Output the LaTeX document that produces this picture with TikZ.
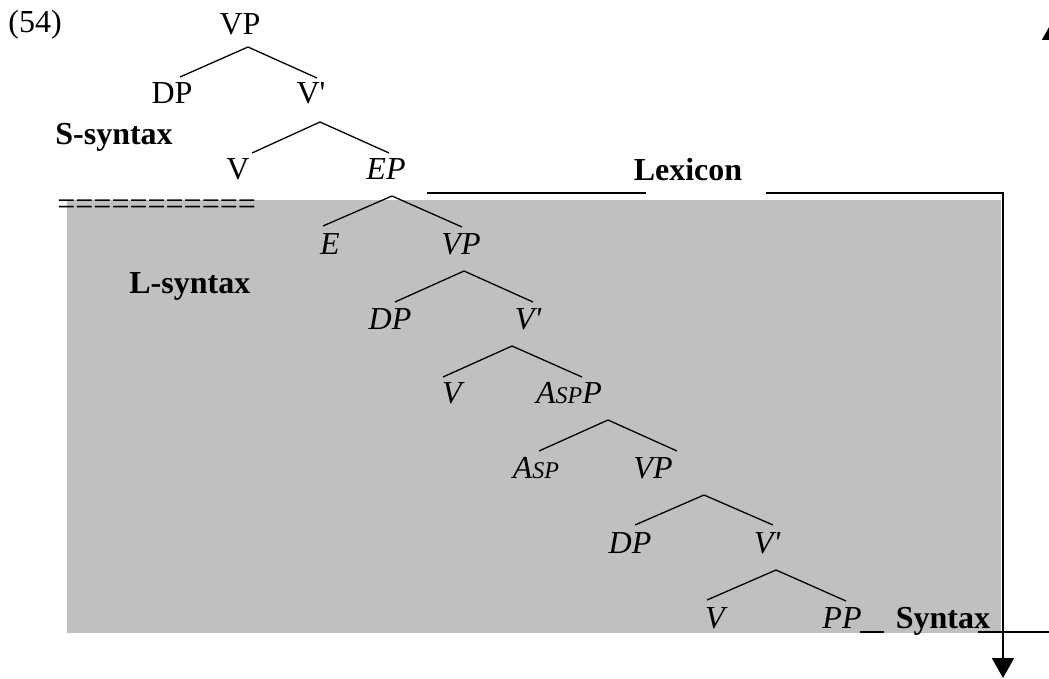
\documentclass[tikz,border=0pt]{standalone}
\usepackage{fontspec}
\setmainfont{Liberation Serif}
\usetikzlibrary{arrows.meta}
\definecolor{lexGray}{RGB}{192,192,192}

% small-caps Asp head and the bar prime
\newcommand{\Asp}{A{\fontsize{12}{14}\selectfont SP}}
\newcommand{\prm}{\textquotesingle}

\begin{document}
\begin{tikzpicture}[x=0.5pt, y=-0.5pt]%
  \tikzset{plain cat/.style={anchor=base, inner sep=0pt, font=\fontsize{16}{19}\selectfont}}
  \tikzset{lex cat/.style={plain cat, font=\fontsize{16}{19}\selectfont\itshape}}
  \tikzset{area name/.style={plain cat, font=\fontsize{16}{19}\selectfont\bfseries}}
  \tikzset{tree branch/.style={draw, line width=0.65pt}}
  \tikzset{route line/.style={draw, line width=1pt}}
  \tikzset{route arrow/.style={route line, -{Triangle[length=10pt, width=11pt]}}}

  \useasboundingbox (0,0) rectangle (1049,679);
  \fill[lexGray] (67,200) rectangle (1001,633);

  % S-syntax part
  \node[plain cat, anchor=base west] (ex) at (8,33) {(54)};
  \node[plain cat] (VP0) at (240,35) {VP};
  \node[plain cat] (DP0) at (172,104) {DP};
  \node[plain cat] (Vbar0) at (311,104) {V\prm};
  \node[area name, anchor=base west] (Ssyn) at (55,145) {S-syntax};
  \node[plain cat] (V0) at (238,180) {V};
  \node[lex cat] (EP) at (386,180) {EP};
  \node[plain cat, anchor=base west] (bound) at (57,215) {===========};
  \node[area name] (Lexicon) at (688,181) {Lexicon};

  % L-syntax part
  \node[lex cat] (E) at (330,255) {E};
  \node[lex cat] (VP1) at (461,255) {VP};
  \node[area name, anchor=base west] (Lsyn) at (129,293) {L-syntax};
  \node[lex cat] (DP1) at (390,329) {DP};
  \node[lex cat] (Vbar1) at (528,329) {V\prm};
  \node[lex cat] (V1) at (452,403) {V};
  \node[lex cat] (AspP) at (569,403) {\Asp P};
  \node[lex cat] (Asp) at (536,478) {\Asp};
  \node[lex cat] (VP2) at (653,478) {VP};
  \node[lex cat] (DP2) at (630,553) {DP};
  \node[lex cat] (Vbar2) at (767,553) {V\prm};
  \node[lex cat] (V2) at (715,628) {V};
  \node[lex cat] (PP) at (842,628) {PP};
  \node[area name] (Syntax) at (943,628) {Syntax};

  % branch tops
  \coordinate (t1) at (248,47);
  \coordinate (t2) at (320,122);
  \coordinate (t3) at (392,196);
  \coordinate (t4) at (464,271);
  \coordinate (t5) at (512,346);
  \coordinate (t6) at (608,420);
  \coordinate (t7) at (704,495);
  \coordinate (t8) at (776,570);

  \draw[tree branch] (t1) +(-68,30) -- (t1) -- +(69,31);
  \draw[tree branch] (t2) +(-68,31) -- (t2) -- +(69,31);
  \draw[tree branch] (t3) +(-69,30) -- (t3) -- +(70,31);
  \draw[tree branch] (t4) +(-69,31) -- (t4) -- +(69,31);
  \draw[tree branch] (t5) +(-69,31) -- (t5) -- +(70,31);
  \draw[tree branch] (t6) +(-69,31) -- (t6) -- +(69,31);
  \draw[tree branch] (t7) +(-69,30) -- (t7) -- +(69,30);
  \draw[tree branch] (t8) +(-69,30) -- (t8) -- +(70,31);

  % Lexicon route down to the bottom
  \coordinate (lexA) at (427,193);
  \coordinate (lexB) at (646,193);
  \coordinate (lexC) at (766,193);
  \coordinate (lexD) at (1003,193);
  \coordinate (lexE) at (1003,678);
  \path[route line] (lexA) -- (lexB);
  \path[route arrow] (lexC) -- (lexD) -- (lexE);

  % Syntax route back up
  \coordinate (ppA) at (860,632);
  \coordinate (ppB) at (884,632);
  \coordinate (synA) at (978,632);
  \coordinate (synB) at (1053,632);
  \coordinate (synC) at (1053,20);
  \path[route line] (ppA) -- (ppB);
  \path[route arrow] (synA) -- (synB) -- (synC);
\end{tikzpicture}
\end{document}
